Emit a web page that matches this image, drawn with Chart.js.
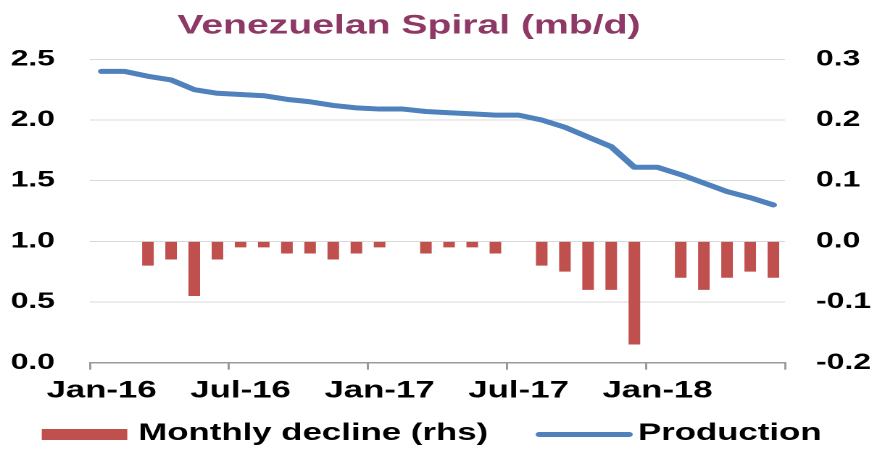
<!DOCTYPE html>
<html>
<head>
<meta charset="utf-8">
<script src="https://cdn.jsdelivr.net/npm/chart.js@4.4.1/dist/chart.umd.min.js"></script>
<style>
  html, body { margin: 0; padding: 0; background: #ffffff; overflow: hidden; }
  #wrap { width: 605px; height: 450px; transform: scaleX(1.4496); transform-origin: 0 0; }
</style>
</head>
<body>
<div id="wrap"><canvas id="c" width="605" height="450"></canvas></div>
<script>
const titleText = 'Venezuelan Spiral (mb/d)';
const categories = ['Jan-16','Feb-16','Mar-16','Apr-16','May-16','Jun-16','Jul-16','Aug-16','Sep-16','Oct-16','Nov-16','Dec-16',
  'Jan-17','Feb-17','Mar-17','Apr-17','May-17','Jun-17','Jul-17','Aug-17','Sep-17','Oct-17','Nov-17','Dec-17',
  'Jan-18','Feb-18','Mar-18','Apr-18','May-18','Jun-18'];
const production = [2.40,2.40,2.36,2.33,2.25,2.22,2.21,2.20,2.17,2.15,2.12,2.10,2.09,2.09,2.07,2.06,2.05,2.04,2.04,2.00,1.94,1.86,1.78,1.61,1.61,1.55,1.48,1.41,1.36,1.30];
const monthlyDecline = [null,0,-0.04,-0.03,-0.09,-0.03,-0.01,-0.01,-0.02,-0.02,-0.03,-0.02,-0.01,0,-0.02,-0.01,-0.01,-0.02,0,-0.04,-0.05,-0.08,-0.08,-0.17,0,-0.06,-0.08,-0.06,-0.05,-0.06];
const leftTicks = [0, 2.5, 0.5];
const rightTicks = [-0.2, 0.3, 0.1];
const seriesNames = ['Monthly decline (rhs)', 'Production'];

const FONT = '"Liberation Sans", Arial, sans-serif';
const RED = '#C0504D';
const BLUE = '#4F81BD';

const overlay = {
  id: 'overlay',
  afterDraw(chart) {
    const ctx = chart.ctx;
    ctx.save();
    // title
    ctx.fillStyle = '#8E3866';
    ctx.font = 'bold 27px ' + FONT;
    ctx.textAlign = 'center';
    ctx.textBaseline = 'alphabetic';
    ctx.fillText(titleText, 282.1, 33.5);
    // legend
    ctx.font = 'bold 24px ' + FONT;
    ctx.textAlign = 'left';
    ctx.fillStyle = RED;
    ctx.fillRect(28.8, 429, 59, 11);
    ctx.fillStyle = '#000';
    ctx.fillText(seriesNames[0], 95.4, 440);
    ctx.strokeStyle = BLUE;
    ctx.lineWidth = 5;
    ctx.lineCap = 'round';
    ctx.beginPath();
    ctx.moveTo(372, 434.5);
    ctx.lineTo(434, 434.5);
    ctx.stroke();
    ctx.fillStyle = '#000';
    ctx.fillText(seriesNames[1], 440.1, 440);
    ctx.restore();
  }
};

const tickMarkColor = (c) => (c.index === undefined || c.index % 6 === 0) ? '#9a9a9a' : 'rgba(0,0,0,0)';

new Chart(document.getElementById('c'), {
  data: {
    labels: categories,
    datasets: [
      {
        type: 'line', label: seriesNames[1], data: production, yAxisID: 'y',
        borderColor: BLUE, borderWidth: 5, pointRadius: 0, tension: 0,
        borderJoinStyle: 'round', borderCapStyle: 'round', order: 0
      },
      {
        type: 'bar', label: seriesNames[0], data: monthlyDecline, yAxisID: 'y1',
        backgroundColor: RED, barPercentage: 0.5, categoryPercentage: 1.0, order: 1
      }
    ]
  },
  options: {
    responsive: false,
    animation: false,
    devicePixelRatio: 2,
    layout: { padding: { top: 59.3, bottom: 0, left: 0, right: 0 } },
    plugins: { legend: { display: false }, title: { display: false }, tooltip: { enabled: false } },
    scales: {
      x: {
        offset: true,
        grid: { offset: true, drawOnChartArea: false, drawTicks: true, tickLength: 7, color: tickMarkColor, tickColor: tickMarkColor, lineWidth: 1.5 },
        border: { display: true, color: '#9a9a9a', width: 1.5 },
        ticks: {
          autoSkip: false, maxRotation: 0, minRotation: 0, padding: 7, color: '#000',
          font: { family: FONT, size: 24, weight: 'bold' },
          callback: function (v, i) { return i % 6 === 0 ? categories[i] : ''; }
        },
        afterFit: (s) => { s.height = 450 - 362.7; }
      },
      y: {
        position: 'left', min: leftTicks[0], max: leftTicks[1],
        grid: { color: '#d9d9d9', lineWidth: 1, drawTicks: false },
        border: { display: false },
        ticks: {
          stepSize: leftTicks[2], padding: 24.2, color: '#000',
          font: { family: FONT, size: 22, weight: 'bold' },
          callback: (v) => Number(v).toFixed(1)
        },
        afterFit: (s) => { s.width = 62.1; }
      },
      y1: {
        position: 'right', min: rightTicks[0], max: rightTicks[1],
        grid: { drawOnChartArea: false, drawTicks: false },
        border: { display: false },
        ticks: {
          stepSize: rightTicks[2], padding: 21.4, color: '#000',
          font: { family: FONT, size: 22, weight: 'bold' },
          callback: (v) => Number(v).toFixed(1)
        },
        afterFit: (s) => { s.width = 605 - 541.5; }
      }
    }
  },
  plugins: [overlay]
});
</script>
</body>
</html>
